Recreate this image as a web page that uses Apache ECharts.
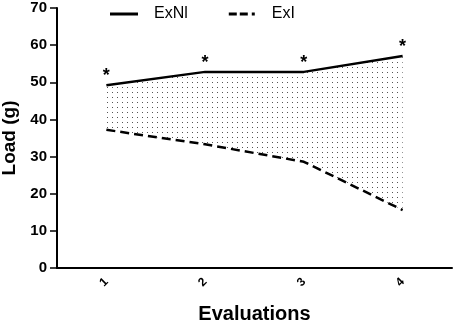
<!DOCTYPE html>
<html>
<head>
<meta charset="utf-8">
<script src="https://cdn.jsdelivr.net/npm/echarts@6/dist/echarts.min.js"></script>
<style>
	html, body { margin: 0; padding: 0; background: #fff; }
	#chart { width: 454px; height: 324px; }
</style>
</head>
<body>
<div id="chart"></div>
<script>
	// data
	const evaluations = ['1', '2', '3', '4']
	const exNl = [49.2, 52.8, 52.8, 57.1]
	const exI = [37.2, 33.3, 28.6, 15.6]
	const marks = ['*', '*', '*', '*']

	// dotted pattern for the band between the lines
	const makeDots = () => {
		const c = document.createElement('canvas')
		c.width = 5
		c.height = 5
		const ctx = c.getContext('2d')
		ctx.fillStyle = '#fff'
		ctx.fillRect(0, 0, 5, 5)
		ctx.fillStyle = '#555'
		ctx.fillRect(2, 2, 1, 1)
		return c
	}

	const band = exNl.map((v, i) => +(v - exI[i]).toFixed(2))
	const font = 'Arial, "Liberation Sans", sans-serif'

	const chart = echarts.init(document.getElementById('chart'))
	const option = {
		animation: false,
		grid: { left: 57, right: 2, top: 8, bottom: 56, outerBoundsMode: 'none' },
		legend: {
			data: [
				{ name: 'ExNl', icon: 'path://M0,0 L28,0 L28,3 L0,3 Z' },
				{ name: 'ExI', icon: 'path://M0,0 L8,0 L8,3 L0,3 Z M11,0 L19,0 L19,3 L11,3 Z M23,0 L26,0 L26,3 L23,3 Z' }
			],
			top: 6,
			left: 110,
			padding: 0,
			itemGap: 41,
			itemWidth: 28,
			itemHeight: 3,
			textStyle: { fontFamily: font, fontSize: 16, color: '#000', padding: [0, 0, 0, 11] }
		},
		xAxis: {
			type: 'category',
			data: evaluations,
			boundaryGap: true,
			name: 'Evaluations',
			nameLocation: 'middle',
			nameGap: 36,
			nameTextStyle: { fontFamily: font, fontSize: 20, fontWeight: 'bold', color: '#000' },
			axisLine: { lineStyle: { color: '#000', width: 2 } },
			axisTick: { alignWithLabel: true, length: 6, lineStyle: { color: '#000', width: 1.5 } },
			axisLabel: { rotate: 45, fontFamily: font, fontSize: 12, fontWeight: 'bold', color: '#000', margin: 12 },
			splitLine: { show: false }
		},
		yAxis: {
			type: 'value',
			min: 0,
			max: 70,
			interval: 10,
			name: 'Load (g)',
			nameLocation: 'middle',
			nameGap: 30,
			nameTextStyle: { fontFamily: font, fontSize: 19, fontWeight: 'bold', color: '#000' },
			axisLine: { show: true, lineStyle: { color: '#000', width: 2 } },
			axisTick: { show: true, length: 7, lineStyle: { color: '#000', width: 1.5 } },
			axisLabel: { fontFamily: font, fontSize: 15, fontWeight: 'bold', color: '#000', margin: 10 },
			splitLine: { show: false }
		},
		series: [{
			name: 'ExI',
			type: 'line',
			stack: 'band',
			data: exI,
			symbol: 'none',
			lineStyle: { color: '#000', width: 2.5, type: [9, 5] },
			itemStyle: { color: '#000' },
			z: 3
		}, {
			name: 'band',
			type: 'line',
			stack: 'band',
			data: band,
			symbol: 'none',
			lineStyle: { opacity: 0 },
			areaStyle: { color: { image: makeDots(), repeat: 'repeat' }, opacity: 1 },
			z: 1
		}, {
			name: 'ExNl',
			type: 'line',
			data: exNl,
			symbol: 'circle',
			symbolSize: 0.1,
			showSymbol: true,
			lineStyle: { color: '#000', width: 2.5 },
			itemStyle: { color: '#000' },
			label: {
				show: true,
				position: 'top',
				distance: 0,
				formatter: p => marks[p.dataIndex],
				fontFamily: font,
				fontSize: 18,
				fontWeight: 'bold',
				color: '#000'
			},
			z: 4
		}]
	}
	chart.setOption(option)
</script>
</body>
</html>
